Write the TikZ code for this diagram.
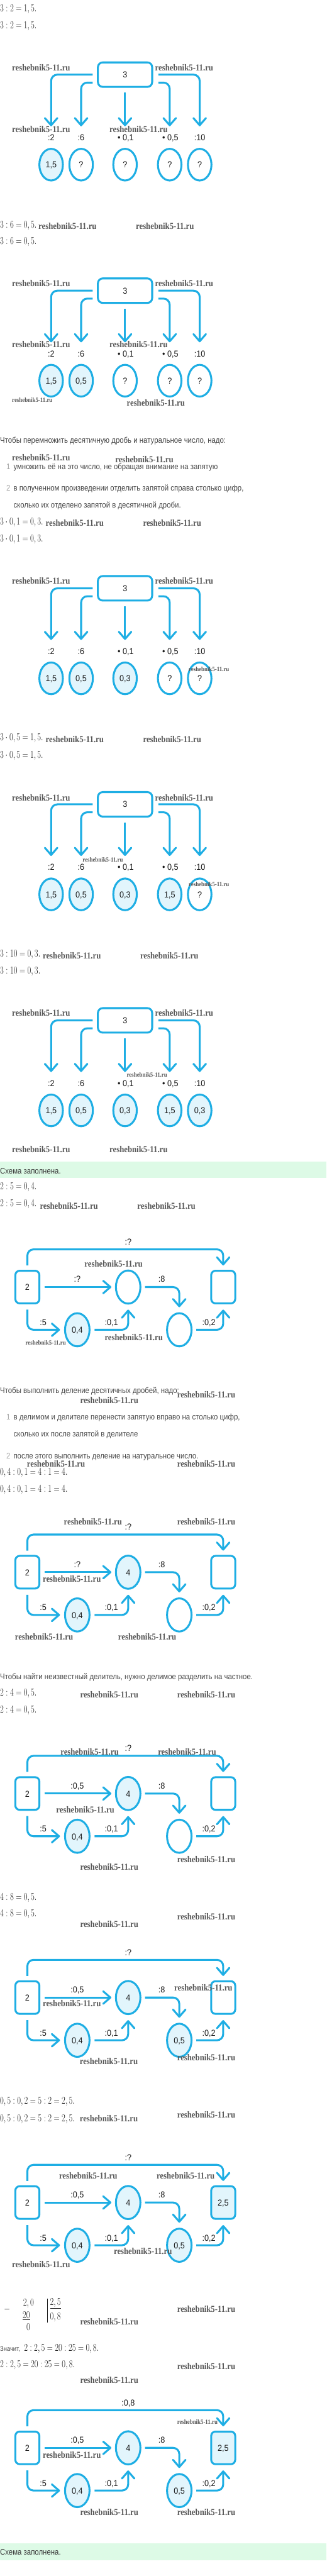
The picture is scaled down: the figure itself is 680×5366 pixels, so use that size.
\documentclass[tikz,border=0pt]{standalone}
\usepackage{fix-cm}
\usepackage{fontspec}
\usepackage{graphicx}
\usetikzlibrary{shapes.geometric,arrows.meta,calc}
\newfontfamily\rusf[FakeStretch=0.88]{Liberation Sans}
\newfontfamily\labf[FakeStretch=0.92]{Liberation Sans}
\newfontfamily\wmf[FakeStretch=0.88]{Liberation Serif}
\definecolor{cyanl}{RGB}{30,174,228}
\definecolor{lightc}{RGB}{226,245,252}
\definecolor{txtg}{RGB}{70,70,70}
\definecolor{numg}{RGB}{165,165,165}
\definecolor{dtext}{RGB}{25,25,25}
\definecolor{wmc}{RGB}{88,88,88}
\definecolor{greenb}{RGB}{221,250,230}
\def\qmark{?}
\newcommand\mth[1]{\fontsize{22}{26}\selectfont\scalebox{0.75}[1]{$#1$}}
\tikzset{
 cline/.style={draw=cyanl,line width=4pt},
 arrA/.style={cline,rounded corners=13pt,-{Straight Barb[length=15pt,width=26pt,round]}},
 dfont/.style={font=\labf\fontsize{18}{20}\selectfont,text=dtext},
 boxA/.style={cline,rectangle,rounded corners=10pt,minimum width=113pt,minimum height=51pt,inner sep=0pt,outer sep=0pt,dfont,text height=13pt,text depth=0pt},
 ellA/.style={cline,ellipse,minimum width=49pt,minimum height=66pt,inner sep=0pt,outer sep=0pt,dfont,text height=13pt,text depth=0pt},
 boxB/.style={cline,rectangle,rounded corners=9pt,minimum width=50pt,minimum height=68pt,inner sep=0pt,outer sep=0pt,dfont,text height=14pt,text depth=0pt},
 ellB/.style={cline,ellipse,minimum width=51pt,minimum height=69pt,inner sep=0pt,outer sep=0pt,dfont,text height=14pt,text depth=0pt},
 labd/.style={anchor=base,inner sep=0pt,dfont},
 rtext/.style={anchor=base west,inner sep=0pt,font=\rusf\fontsize{17}{20}\selectfont,text=txtg},
 nmark/.style={anchor=base west,inner sep=0pt,font=\rusf\fontsize{17}{20}\selectfont,text=numg},
 mtext/.style={anchor=base west,inner sep=0pt,text=dtext},
 wmk/.style={anchor=base west,inner sep=0pt,font=\wmf\bfseries\fontsize{19}{22}\selectfont,text=wmc},
 wmks/.style={anchor=base west,inner sep=0pt,font=\wmf\bfseries\fontsize{13.2}{15}\selectfont,text=wmc},
}
\newcommand\cnode[5]{%
 \def\tmpv{#5}%
 \ifx\tmpv\qmark \node[#1] (#2) at (#3,#4) {#5};%
 \else\ifx\tmpv\empty \node[#1] (#2) at (#3,#4) {};%
 \else \node[#1,fill=lightc] (#2) at (#3,#4) {#5};\fi\fi}
\newcommand\wm[3]{\node[wmk] (#1) at (#2,#3) {reshebnik5-11.ru};}
\newcommand\wms[3]{\node[wmks] (#1) at (#2,#3) {reshebnik5-11.ru};}
\newcommand\diagA[7]{%
 \node[boxA] (#1b) at (260.5,#2+27.5) {3};
 \cnode{ellA}{#1e1}{106.5}{#2+215}{#3}
 \cnode{ellA}{#1e2}{169}{#2+215}{#4}
 \cnode{ellA}{#1e3}{260.5}{#2+215}{#5}
 \cnode{ellA}{#1e4}{353.5}{#2+215}{#6}
 \cnode{ellA}{#1e5}{416}{#2+215}{#7}
 \node[labd] (#1l1) at (106.5,#2+165) {:2};
 \node[labd] (#1l2) at (169,#2+165) {:6};
 \node[labd] (#1l3) at (262,#2+165) {• 0,1};
 \node[labd] (#1l4) at (355,#2+165) {• 0,5};
 \node[labd] (#1l5) at (416,#2+165) {:10};
 \draw[arrA] ($(#1b.west)+(-11,0)$) -| ($(#1e1.north)+(0,-47)$);
 \draw[arrA] ($(#1b.west)+(-11,16.5)$) -| ($(#1e2.north)+(0,-47)$);
 \draw[arrA] ($(#1b.south)+(0,12)$) -- ($(#1e3.north)+(0,-47)$);
 \draw[arrA] ($(#1b.east)+(13,16.5)$) -| ($(#1e4.north)+(0,-47)$);
 \draw[arrA] ($(#1b.east)+(13,0)$) -| ($(#1e5.north)+(0,-47)$);
}
\newcommand\diagB[8]{%
 \node[boxB] (#1L) at (57,#2+36) {2};
 \cnode{boxB}{#1R}{465}{#2+36}{#8}
 \cnode{ellB}{#1c}{267}{#2+36}{#5}
 \cnode{ellB}{#1d}{161}{#2+125}{#6}
 \cnode{ellB}{#1r}{373.5}{#2+125}{#7}
 \node[labd] (#1t) at (267,#2-52) {#3};
 \node[labd] (#1m) at (161,#2+26) {#4};
 \node[labd] (#1e) at (337,#2+26) {:8};
 \node[labd] (#1f) at (90,#2+116) {:5};
 \node[labd] (#1g) at (232,#2+116) {:0,1};
 \node[labd] (#1h) at (435,#2+116) {:0,2};
 \draw[arrA] ($(#1L.north)+(0,-11)$) |- ($(#1c.north)+(0,-44)$) -| ($(#1R.north)+(0,-11)$);
 \draw[arrA] ($(#1L.east)+(11,0)$) -- ($(#1c.west)+(-9.5,0)$);
 \draw[arrA] ($(#1c.east)+(9.5,0)$) -| ($(#1r.north)+(0,-12.5)$);
 \draw[arrA] ($(#1L.south)+(0,13)$) |- ($(#1d.west)+(-10.5,0)$);
 \draw[arrA] ($(#1d.east)+(10.5,0)$) -| ($(#1c.south)+(0,12.5)$);
 \draw[arrA] ($(#1r.east)+(10,0)$) -| ($(#1R.south)+(0,13)$);
}
\begin{document}
\begin{tikzpicture}[x=1pt,y=-1pt]
\useasboundingbox (0,0) rectangle (680,5366);
\fill[white] (0,0) rectangle (680,5366);
% ---------- part 1 ----------
\node[mtext] (m1) at (0,24) {\mth{3:2=1,5.}};
\node[mtext] (m2) at (0,59) {\mth{3:2=1,5.}};
\diagA{a}{128}{1,5}{?}{?}{?}{?}
\wm{w1}{25}{148}\wm{w2}{323}{148}\wm{w3}{25}{276}\wm{w4}{228}{276}
\node[mtext] (m3) at (0,475) {\mth{3:6=0,5.}};
\wm{w5}{80}{477}\wm{w6}{283}{477}
\node[mtext] (m4) at (0,509) {\mth{3:6=0,5.}};
\diagA{b}{578}{1,5}{0,5}{?}{?}{?}
\wm{w7}{25}{597}\wm{w8}{323}{597}\wm{w9}{25}{724}\wm{w10}{228}{724}
\wms{w11}{25}{838}\wm{w12}{264}{845}
\node[rtext] (p1) at (0,923) {Чтобы перемножить десятичную дробь и натуральное число, надо:};
\wm{w13}{25}{960}\wm{w14}{240}{964}
\node[nmark] (n1) at (13,978) {1};
\node[rtext] (p2) at (28,978) {умножить её на это число, не обращая внимание на запятую};
\node[nmark] (n2) at (13,1023) {2};
\node[rtext] (p3) at (28,1023) {в полученном произведении отделить запятой справа столько цифр,};
\node[rtext] (p4) at (28,1058) {сколько их отделено запятой в десятичной дроби.};
\node[mtext] (m5) at (0,1093) {\mth{3\cdot 0,1=0,3.}};
\wm{w15}{95}{1096}\wm{w16}{298}{1096}
\node[mtext] (m6) at (0,1129) {\mth{3\cdot 0,1=0,3.}};
\diagA{c}{1198}{1,5}{0,5}{0,3}{?}{?}
\wm{w17}{25}{1216}\wm{w18}{323}{1216}\wms{w19}{393}{1398}
\node[mtext] (m7) at (0,1543) {\mth{3\cdot 0,5=1,5.}};
\wm{w20}{95}{1547}\wm{w21}{298}{1547}
\node[mtext] (m8) at (0,1579) {\mth{3\cdot 0,5=1,5.}};
\diagA{d}{1648}{1,5}{0,5}{0,3}{1,5}{?}
\wm{w22}{25}{1668}\wm{w23}{323}{1668}\wms{w24}{172}{1795}\wms{w25}{393}{1847}
\node[mtext] (m9) at (0,1993) {\mth{3:10=0,3.}};
\wm{w26}{89}{1997}\wm{w27}{292}{1997}
\node[mtext] (m10) at (0,2029) {\mth{3:10=0,3.}};
\diagA{e}{2098}{1,5}{0,5}{0,3}{1,5}{0,3}
\wm{w28}{25}{2116}\wm{w29}{323}{2116}\wms{w30}{264}{2243}
\wm{w31}{25}{2400}\wm{w32}{228}{2400}
\fill[greenb] (0,2420) rectangle (680,2454);
\node[rtext,text=black!78] (g1) at (0,2445) {Схема заполнена.};
% ---------- part 2 ----------
\node[mtext] (m11) at (0,2478) {\mth{2:5=0,4.}};
\node[mtext] (m12) at (0,2513) {\mth{2:5=0,4.}};
\wm{w33}{83}{2518}\wm{w34}{286}{2518}
\diagB{f}{2645}{:?}{:?}{}{0,4}{}{}
\wm{w35}{176}{2639}\wms{w36}{53}{2802}\wm{w37}{218}{2792}
\node[rtext] (p5) at (0,2903) {Чтобы выполнить деление десятичных дробей, надо:};
\wm{w38}{369}{2912}\wm{w39}{167}{2924}
\node[nmark] (n3) at (13,2958) {1};
\node[rtext] (p6) at (28,2958) {в делимом и делителе перенести запятую вправо на столько цифр,};
\node[rtext] (p7) at (28,2993) {сколько их после запятой в делителе};
\node[nmark] (n4) at (13,3038) {2};
\node[rtext] (p8) at (28,3038) {после этого выполнить деление на натуральное число.};
\wm{w40}{56}{3056}\wm{w41}{369}{3056}
\node[mtext] (m13) at (0,3073) {\mth{0,4:0,1=4:1=4.}};
\node[mtext] (m14) at (0,3108) {\mth{0,4:0,1=4:1=4.}};
\wm{w42}{133}{3176}\wm{w43}{369}{3176}
\diagB{g}{3239}{:?}{:?}{4}{0,4}{}{}
\wm{w44}{89}{3296}\wm{w45}{31}{3416}\wm{w46}{246}{3416}
\node[rtext] (p9) at (0,3498) {Чтобы найти неизвестный делитель, нужно делимое разделить на частное.};
\node[mtext] (m15) at (0,3533) {\mth{2:4=0,5.}};
\wm{w47}{167}{3536}\wm{w48}{369}{3536}
\node[mtext] (m16) at (0,3568) {\mth{2:4=0,5.}};
\diagB{h}{3700}{:?}{:0,5}{4}{0,4}{}{}
\wm{w49}{126}{3656}\wm{w50}{329}{3656}\wm{w51}{117}{3776}
\wm{w52}{369}{3880}\wm{w53}{167}{3895}
\node[mtext] (m17) at (0,3958) {\mth{4:8=0,5.}};
\node[mtext] (m18) at (0,3993) {\mth{4:8=0,5.}};
\wm{w54}{369}{3999}\wm{w55}{167}{4015}
\diagB{i}{4125}{:?}{:0,5}{4}{0,4}{0,5}{}
\wm{w56}{363}{4147}\wm{w57}{89}{4180}\wm{w58}{369}{4292}\wm{w59}{166}{4300}
\node[mtext] (m19) at (0,4383) {\mth{0,5:0,2=5:2=2,5.}};
\node[mtext] (m20) at (0,4419) {\mth{0,5:0,2=5:2=2,5.}};
\wm{w60}{369}{4412}\wm{w61}{166}{4419}
\diagB{j}{4552}{:?}{:0,5}{4}{0,4}{0,5}{2,5}
\wm{w62}{123}{4539}\wm{w63}{326}{4539}\wm{w64}{237}{4696}\wm{w65}{25}{4724}
% division
\node[mtext] (dvm) at (8,4817) {\mth{-}};
\node[mtext] (dv1) at (48,4803) {\mth{2,0}};
\node[mtext] (dv2) at (47,4830) {\mth{\underline{20}}};
\node[mtext] (dv3) at (55,4855) {\mth{0}};
\draw[line width=0.9pt,dtext] (99,4788) -- (99,4838);
\node[mtext] (dv4) at (104,4802) {\mth{\underline{2,5}}};
\node[mtext] (dv5) at (104,4832) {\mth{0,8}};
\wm{w66}{369}{4816}\wm{w67}{167}{4843}
\node[rtext,font=\rusf\fontsize{14}{16}\selectfont] (p10) at (0,4897) {Значит,};
\node[mtext] (m21) at (50,4897) {\mth{2:2,5=20:25=0,8.}};
\node[mtext] (m22) at (0,4932) {\mth{2:2,5=20:25=0,8.}};
\wm{w68}{369}{4936}\wm{w69}{167}{4964}
\diagB{k}{5063}{:0,8}{:0,5}{4}{0,4}{0,5}{2,5}
\wms{w70}{369}{5050}\wm{w71}{89}{5120}\wm{w72}{167}{5240}\wm{w73}{369}{5240}
\fill[greenb] (0,5298) rectangle (680,5333);
\node[rtext,text=black!78] (g2) at (0,5322) {Схема заполнена.};
\end{tikzpicture}
\end{document}
